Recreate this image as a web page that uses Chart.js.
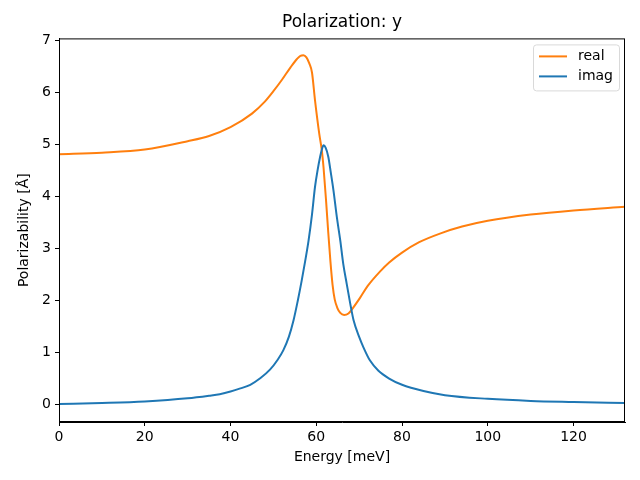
<!DOCTYPE html>
<html>
<head>
<meta charset="utf-8">
<script src="https://cdn.jsdelivr.net/npm/chart.js@4.4.0/dist/chart.umd.min.js"></script>
<style>
  body { margin: 0; background: #fff; }
  #grafico { display: block; }
</style>
</head>
<body>
<canvas id="grafico" width="640" height="480"></canvas>
<script>
// energy [meV] and polarizability values
const energiaReal = [0, 10, 20, 30, 35, 40, 45, 48, 50, 52, 54, 55.5, 56.3, 57, 57.7, 58.4, 59, 59.7, 60.7, 61.3, 61.7, 62.3, 62.8, 63.3, 63.8, 64.3, 64.9, 65.6, 66.5, 67.5, 68.5, 70.2, 72, 74.9, 77, 80, 84, 89, 94, 100, 110, 120, 132];
const valoresReal = [4.81, 4.84, 4.90, 5.06, 5.16, 5.33, 5.59, 5.82, 6.02, 6.24, 6.48, 6.64, 6.70, 6.71, 6.67, 6.55, 6.38, 5.85, 5.2, 4.88, 4.55, 3.9, 3.3, 2.75, 2.3, 2.02, 1.86, 1.76, 1.72, 1.75, 1.85, 2.05, 2.28, 2.56, 2.73, 2.92, 3.12, 3.29, 3.42, 3.53, 3.65, 3.73, 3.80];

const energiaImag = [0, 10, 20, 30, 35, 37.5, 40, 42.3, 44.6, 47, 49.2, 51, 52.3, 53.6, 54.7, 55.7, 56.6, 57.4, 58.2, 59, 59.7, 60.3, 60.9, 61.3, 61.7, 62.2, 62.8, 63.4, 64, 64.8, 65.6, 66.3, 67.1, 67.9, 68.7, 70, 71, 72.5, 74.5, 77, 80, 85, 90, 100, 110, 120, 132];
const valoresImag = [0.01, 0.03, 0.06, 0.12, 0.17, 0.2, 0.25, 0.31, 0.38, 0.51, 0.67, 0.86, 1.04, 1.3, 1.62, 2.0, 2.38, 2.75, 3.15, 3.65, 4.18, 4.5, 4.76, 4.9, 4.98, 4.93, 4.76, 4.45, 4.12, 3.6, 3.15, 2.7, 2.32, 1.95, 1.62, 1.3, 1.1, 0.85, 0.65, 0.5, 0.38, 0.26, 0.18, 0.11, 0.07, 0.05, 0.03];

const ticksX = [0, 20, 40, 60, 80, 100, 120];
const ticksY = [0, 1, 2, 3, 4, 5, 6, 7];

const laranja = "#ff7f0e";
const azul = "#1f77b4";
const fonte = "'DejaVu Sans', sans-serif";

function pontos(xs, ys) {
  return xs.map((x, i) => ({ x: x, y: ys[i] }));
}

// box around the plot + matplotlib-like legend
const moldura = {
  id: "moldura",
  afterDraw(chart) {
    const { ctx, chartArea: a } = chart;
    ctx.save();
    ctx.strokeStyle = "#000";
    ctx.lineWidth = 1;
    ctx.strokeRect(a.left + 0.5, a.top + 0.5, a.right - a.left - 1, a.bottom - a.top - 1);

    const lx = a.right - 92, ly = a.top + 6;
    ctx.fillStyle = "rgba(255,255,255,0.8)";
    ctx.strokeStyle = "#d9d9d9";
    ctx.beginPath();
    ctx.roundRect(lx + 0.5, ly + 0.5, 86, 46, 3);
    ctx.fill();
    ctx.stroke();

    const itens = [["real", laranja], ["imag", azul]];
    ctx.font = "14px " + fonte;
    ctx.textBaseline = "middle";
    ctx.lineWidth = 2;
    itens.forEach((it, i) => {
      const y = ly + 12 + i * 20;
      ctx.strokeStyle = it[1];
      ctx.beginPath();
      ctx.moveTo(lx + 6, y);
      ctx.lineTo(lx + 34, y);
      ctx.stroke();
      ctx.fillStyle = "#000";
      ctx.fillText(it[0], lx + 45, y);
    });
    ctx.restore();
  }
};

const ctx = document.getElementById("grafico").getContext("2d");

new Chart(ctx, {
  type: "line",
  data: {
    datasets: [
      {
        label: "real",
        data: pontos(energiaReal, valoresReal),
        borderColor: laranja,
        borderWidth: 2,
        pointRadius: 0,
        cubicInterpolationMode: "monotone",
        order: 1
      },
      {
        label: "imag",
        data: pontos(energiaImag, valoresImag),
        borderColor: azul,
        borderWidth: 2,
        pointRadius: 0,
        cubicInterpolationMode: "monotone",
        order: 0
      }
    ]
  },
  options: {
    responsive: false,
    animation: false,
    layout: { padding: { top: 0, right: 15, bottom: 0, left: 0 } },
    plugins: {
      legend: { display: false },
      tooltip: { enabled: false },
      title: {
        display: true,
        text: "Polarization: y",
        fullSize: false,
        color: "#000",
        font: { family: fonte, size: 17, weight: "normal" },
        padding: { top: 12, bottom: 6 }
      }
    },
    scales: {
      x: {
        type: "linear",
        min: 0,
        max: 132,
        afterBuildTicks: (s) => { s.ticks = ticksX.map(v => ({ value: v })); },
        afterFit: (s) => { s.height = 58; },
        border: { color: "#000", width: 1 },
        grid: { drawOnChartArea: false, drawTicks: true, tickLength: 4, color: "#000" },
        ticks: { color: "#000", padding: 3, maxRotation: 0, font: { family: fonte, size: 14 } },
        title: {
          display: true,
          text: "Energy [meV]",
          color: "#000",
          font: { family: fonte, size: 14 },
          padding: { top: 0, bottom: 14 }
        }
      },
      y: {
        type: "linear",
        min: -0.335,
        max: 7.035,
        afterBuildTicks: (s) => { s.ticks = ticksY.map(v => ({ value: v })); },
        afterFit: (s) => { s.width = 59; },
        border: { color: "#000", width: 1 },
        grid: { drawOnChartArea: false, drawTicks: true, tickLength: 4, color: "#000" },
        ticks: { color: "#000", padding: 4, font: { family: fonte, size: 14 } },
        title: {
          display: true,
          text: "Polarizability [Å]",
          color: "#000",
          font: { family: fonte, size: 14 },
          padding: { top: 16, bottom: 0 }
        }
      }
    }
  },
  plugins: [moldura]
});
</script>
</body>
</html>
